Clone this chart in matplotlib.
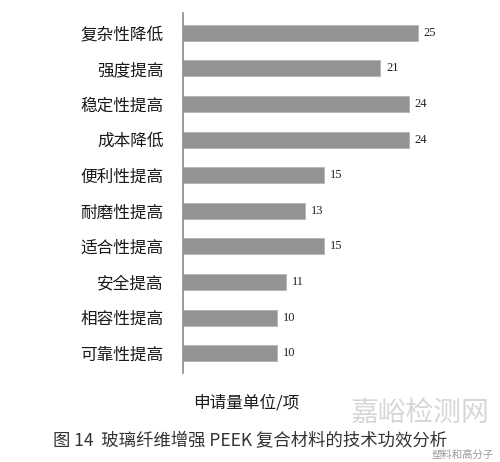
import numpy as np
import matplotlib
matplotlib.use('Agg')
import matplotlib.pyplot as plt

#- data
labels = ['复杂性降低', '强度提高', '稳定性提高', '成本降低', '便利性提高',
          '耐磨性提高', '适合性提高', '安全提高', '相容性提高', '可靠性提高']
counts = [25, 21, 24, 24, 15, 13, 15, 11, 10, 10]

plt.rcParams['font.family'] = ['Noto Sans CJK SC', 'DejaVu Sans']

fig = plt.figure(figsize=(5.0, 4.62), dpi=100)
ax = fig.add_axes([183/500, 89/462, 282/500, 360/462])

y = np.arange(len(labels))
ax.barh(y, counts, height=0.45, color='#939396', edgecolor='#b4b4b6', linewidth=0.6)
for yi, v in zip(y, counts):
    ax.text(v + 0.6, yi, str(v), va='center', ha='left', fontsize=9,
            family='Liberation Serif', color='#222222')

ax.set_xlim(0, 30)
ax.set_ylim(len(labels) - 0.44, -0.56)
ax.set_yticks(y)
ax.set_yticklabels(labels, fontsize=12, color='#1a1a1a')
ax.tick_params(axis='y', length=0, pad=14)
ax.set_xticks([])
for s in ['top', 'right', 'bottom']:
    ax.spines[s].set_visible(False)
ax.spines['left'].set_color('#8a8a8a')
ax.spines['left'].set_linewidth(1.2)

fig.text(246/500, 1 - 403/462, '申请量单位/项', ha='center', va='center',
         fontsize=12, color='#1a1a1a')
fig.text(250/500, 1 - 441/462, '图 14  玻璃纤维增强 PEEK 复合材料的技术功效分析',
         ha='center', va='center', fontsize=12.5, color='#333333')

# watermark
fig.text(420/500, 1 - 413/462, '嘉峪检测网', ha='center', va='center',
         fontsize=20, color='#d6d6d6')
fig.text(494/500, 1 - 455/462, '塑料和高分子', ha='right', va='center',
         fontsize=7.5, color='#9a9a9a')

plt.savefig('out.png', dpi=100)
